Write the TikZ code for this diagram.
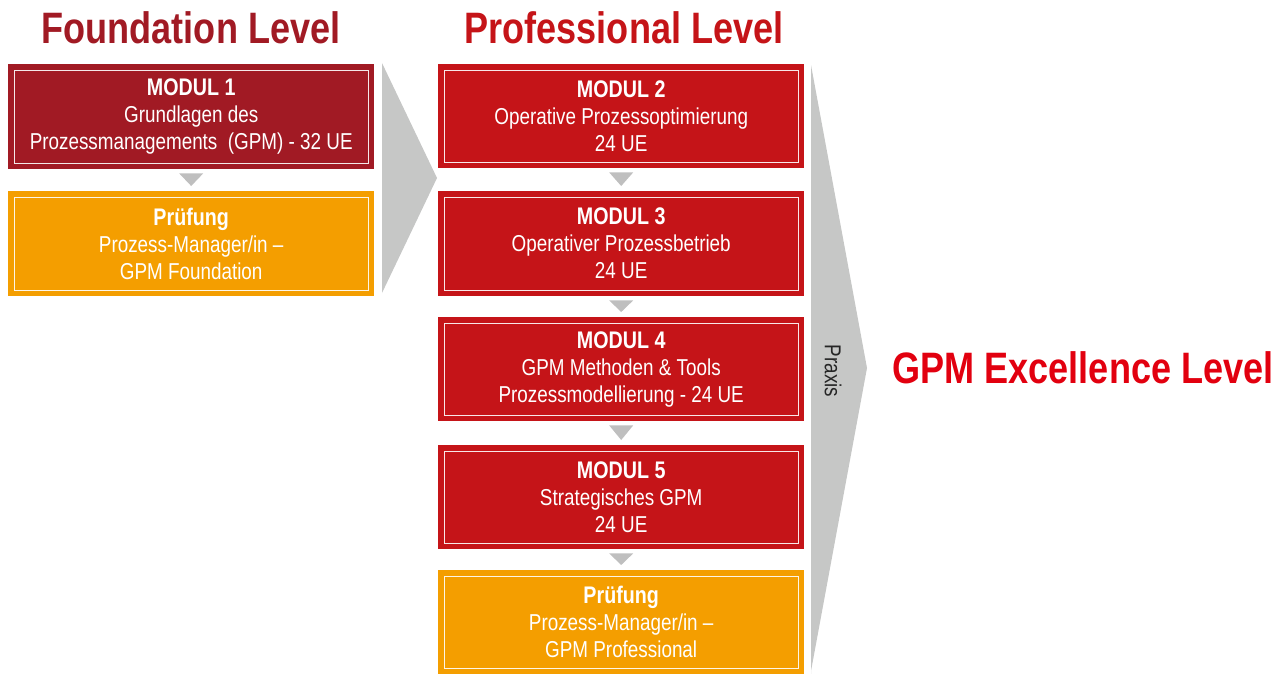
\documentclass[tikz,border=0pt]{standalone}
\usepackage{fontspec}
\setmainfont{Liberation Sans}[FakeStretch=0.82]
\usetikzlibrary{calc}
\definecolor{dred}{HTML}{A11A24}
\definecolor{pred}{HTML}{C51418}
\definecolor{orng}{HTML}{F49E00}
\definecolor{xred}{HTML}{E2000F}
\definecolor{chevgray}{HTML}{C6C7C6}
\definecolor{trigray}{HTML}{BFBFBF}
\newcommand{\modhead}[1]{{\fontsize{24}{27}\selectfont\bfseries #1}}
\tikzset{
  box/.style={rectangle, anchor=north west, minimum width=366pt, inner sep=0pt,
    text=white, align=center, font=\fontsize{23}{27}\selectfont,
    path picture={\draw[white, opacity=0.9, line width=1pt]
      ([shift={(6pt,-6pt)}]path picture bounding box.north west) rectangle
      ([shift={(-6pt,6pt)}]path picture bounding box.south east);}},
  title/.style={anchor=base, inner sep=0pt, font=\fontsize{44}{50}\selectfont\bfseries},
  chev/.style={fill=chevgray},
  tri/.style={fill=trigray},
}
\begin{document}
\begin{tikzpicture}[x=1pt,y=-1pt]
\useasboundingbox (0,0) rectangle (1288,673);
% titles
\node[title, text=dred] (tf) at (191,43) {Foundation Level};
\node[title, text=pred] (tp) at (624,43) {Professional Level};
\node[title, text=xred] (tx) at (1083,383) {GPM Excellence Level};
% chevrons
\fill[chev] (382,63) -- (437,178) -- (382,293) -- cycle;
\fill[chev] (811,65) -- (867,368) -- (811,671) -- (811,680) -- cycle;
\node[rotate=-90, inner sep=0pt, text=black!85, font=\fontsize{23}{26}\selectfont] (px) at (833,371) {Praxis};
% foundation
\node[box, fill=dred, minimum height=105pt] (m1) at (8,64) {\modhead{MODUL 1}\\Grundlagen des\\Prozessmanagements\ \ (GPM) - 32 UE};
\node[box, fill=orng, minimum height=105pt] (p1) at (8,191) {\modhead{Prüfung}\\Prozess-Manager/in –\\GPM Foundation};
% professional
\node[box, fill=pred, minimum height=104pt] (m2) at (438,64) {\modhead{MODUL 2}\\Operative Prozessoptimierung\\24 UE};
\node[box, fill=pred, minimum height=105pt] (m3) at (438,191) {\modhead{MODUL 3}\\Operativer Prozessbetrieb\\24 UE};
\node[box, fill=pred, minimum height=104pt] (m4) at (438,317) {\modhead{MODUL 4}\\GPM Methoden \& Tools\\Prozessmodellierung - 24 UE};
\node[box, fill=pred, minimum height=104pt] (m5) at (438,445) {\modhead{MODUL 5}\\Strategisches GPM\\24 UE};
\node[box, fill=orng, minimum height=104pt] (p2) at (438,570) {\modhead{Prüfung}\\Prozess-Manager/in –\\GPM Professional};
% small triangles
\foreach \a/\b in {m1/p1, m2/m3, m3/m4, m4/m5, m5/p2}{
  \fill[tri] ($(\a.south)+(-12pt,-4pt)$) -- ($(\a.south)+(12pt,-4pt)$) -- ($(\b.north)+(0pt,5pt)$) -- cycle;
}
\end{tikzpicture}
\end{document}
